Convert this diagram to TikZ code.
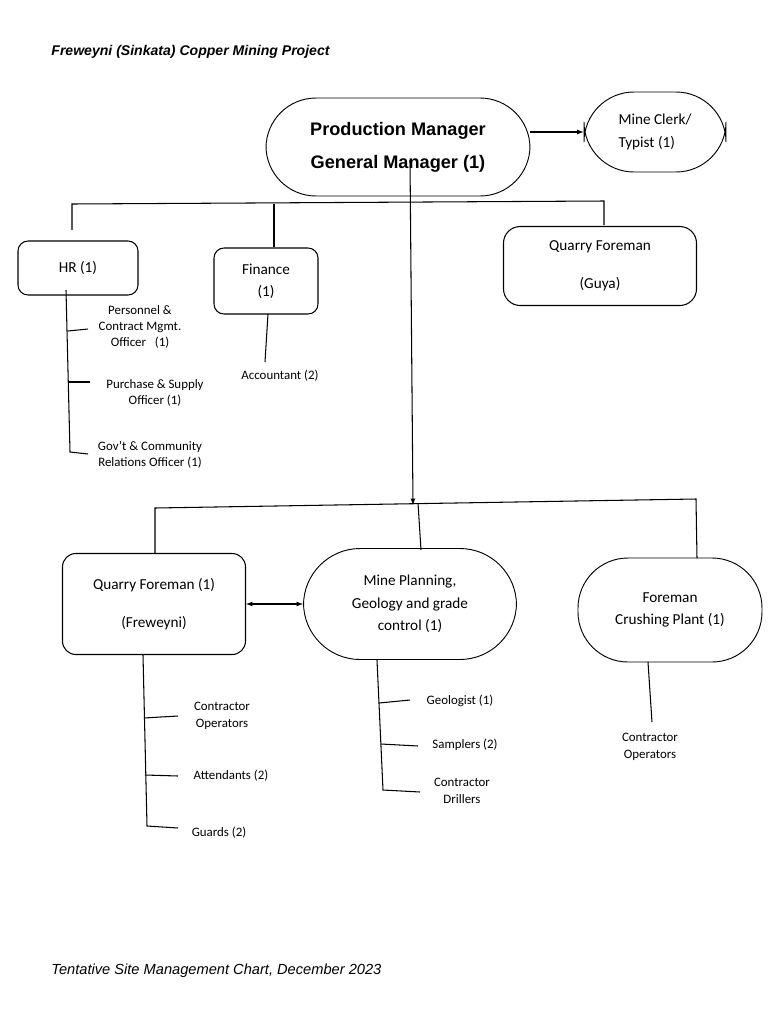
\documentclass[tikz,border=0pt]{standalone}
\usepackage{fontspec}
\setmainfont{Carlito}
\newfontfamily\arialf{Liberation Sans}
\usetikzlibrary{positioning}
\tikzset{
    pill/.style = {draw, thick, rounded corners = 15mm, align = center},
    card/.style = {draw, rounded corners = 3mm, align = center},
    small/.style = {font = \fontsize{11}{14}\selectfont, align = center},
    mid/.style = {font = \fontsize{13}{19}\selectfont},
}
\begin{document}
\begin{tikzpicture}[x = 0.03cm, y = -0.03cm, line width = 0.9pt]
        \useasboundingbox (0,0) rectangle (768,1024);
        \node[anchor = west, font = \arialf\bfseries\itshape\fontsize{12}{14}\selectfont] (title) at (47,52) {Freweyni (Sinkata) Copper Mining Project};
        \node[anchor = west, font = \arialf\itshape\fontsize{12.5}{14}\selectfont] (foot) at (47,971) {Tentative Site Management Chart, December 2023};
        % top level
        \node[pill, minimum width = 264*0.03cm, minimum height = 98*0.03cm, font = \arialf\bfseries\fontsize{15.5}{28}\selectfont] (pm) at (398,147) {Production Manager\\General Manager (1)};
        \node[pill, minimum width = 142*0.03cm, minimum height = 80*0.03cm, align = left, mid] (clerk) at (655,132) {Mine Clerk/\\Typist (1)};
        \draw[-latex] (530,132) -- (clerk.west);
        \node[card, minimum width = 120*0.03cm, minimum height = 54*0.03cm, mid] (hr) at (78,268) {HR (1)};
        \node[card, minimum width = 104*0.03cm, minimum height = 66*0.03cm, mid] (fin) at (266,281) {Finance\\(1)};
        \node[card, rounded corners = 5mm, minimum width = 193*0.03cm, minimum height = 79*0.03cm, mid, font = \fontsize{13}{32}\selectfont] (guya) at (600,266) {Quarry Foreman\\(Guya)};
        \draw (72,230) -- (72,204) -- (604,201) -- (604,225);
        \draw (274,204) -- (fin.north -| 274,0);
        % HR staff
        \node[small] (pers) at (140,327) {Personnel \&\\Contract Mgmt.\\Officer \ \ (1)};
        \node[small] (purch) at (155,393) {Purchase \& Supply\\Officer (1)};
        \node[small] (gov) at (150,455) {Gov't \& Community\\Relations Officer (1)};
        \draw (66,290) -- (70,452) -- (88,454);
        \draw (68,331) -- (88,329);
        \draw (69,382) -- (90,382);
        \node[small] (acc) at (280,376) {Accountant (2)};
        \draw (268,314) -- (265,362);
        % lower level
        \draw[-latex] (410,160) -- (413,505);
        \draw (155,553) -- (155,508) -- (696,499) -- (697,558);
        \draw (418,503) -- (421,550);
        \node[card, rounded corners = 4mm, minimum width = 183*0.03cm, minimum height = 101*0.03cm, mid, font = \fontsize{13}{32}\selectfont] (qf) at (154,604) {Quarry Foreman (1)\\(Freweyni)};
        \node[pill, rounded corners = 17mm, minimum width = 213*0.03cm, minimum height = 111*0.03cm, mid] (mp) at (410,604) {Mine Planning,\\Geology and grade\\control (1)};
        \node[pill, minimum width = 184*0.03cm, minimum height = 104*0.03cm, mid] (fcp) at (670,610) {Foreman\\Crushing Plant (1)};
        \draw[latex-latex] (qf.east) -- (mp.west);
        % quarry staff
        \node[small] (cop1) at (222,716) {Contractor\\Operators};
        \node[small] (att) at (231,776) {Attendants (2)};
        \node[small] (grd) at (219,833) {Guards (2)};
        \draw (143,655) -- (147,826) -- (178,828);
        \draw (144,718) -- (178,716);
        \draw (145,775) -- (178,776);
        % planning staff
        \node[small] (geo) at (460,701) {Geologist (1)};
        \node[small] (samp) at (465,745) {Samplers (2)};
        \node[small] (drl) at (462,791) {Contractor\\Drillers};
        \draw (377,660) -- (383,790) -- (420,792);
        \draw (379,703) -- (410,700);
        \draw (381,744) -- (418,746);
        \node[small] (cop2) at (650,747) {Contractor\\Operators};
        \draw (648,662) -- (652,722);
    \end{tikzpicture}
\end{document}
